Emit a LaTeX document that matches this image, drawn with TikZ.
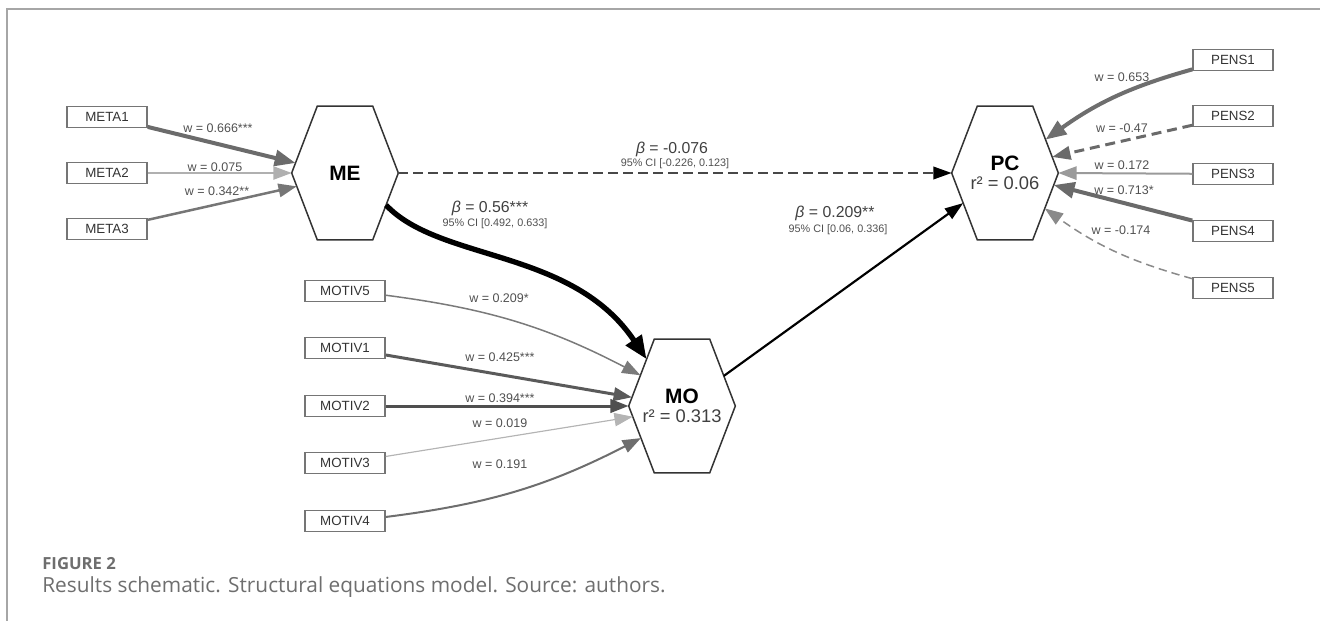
\documentclass[tikz,border=0pt]{standalone}
\usepackage{fontspec}
\setmainfont{Liberation Sans}
\newfontfamily\captionfont{Open Sans}
\usepackage{xcolor}
\usepackage{tikz}
\usetikzlibrary{positioning,calc,arrows.meta}

\definecolor{framegray}{HTML}{A6A6A6}
\definecolor{boxline}{HTML}{757575}
\definecolor{boxtext}{HTML}{333333}
\definecolor{labtext}{HTML}{505050}
\definecolor{captgray}{HTML}{6E6E6E}

% hexagon outline round a latent node, corners kept as coordinates
\newcommand{\drawhex}[1]{%
  \coordinate (#1-nw) at ($(#1.north west)!.24!(#1.north east)$);
  \coordinate (#1-ne) at ($(#1.north west)!.76!(#1.north east)$);
  \coordinate (#1-sw) at ($(#1.south west)!.24!(#1.south east)$);
  \coordinate (#1-se) at ($(#1.south west)!.76!(#1.south east)$);
  \draw[black!80, line width=0.9pt, line join=miter]
    (#1.west) -- (#1-nw) -- (#1-ne) -- (#1.east) -- (#1-se) -- (#1-sw) -- cycle;}

\begin{document}
\begin{tikzpicture}[x=0.6pt, y=-0.6pt,
    indicator/.style={draw=boxline, line width=0.9pt, minimum width=48pt, minimum height=12.5pt,
      inner sep=0pt, text=boxtext, font=\fontsize{8}{9}\selectfont},
    latent/.style={minimum width=63.6pt, minimum height=79.8pt, inner sep=0pt, align=center,
      font=\fontsize{11}{12.6}\selectfont},
    wlab/.style={inner sep=0pt, text=labtext, font=\fontsize{7.5}{8}\selectfont},
    betalab/.style={inner sep=0pt, text=black!75, font=\fontsize{9.5}{10}\selectfont},
    cilab/.style={inner sep=0pt, text=labtext, font=\fontsize{6.5}{7}\selectfont},
    wedge/.style={-{Triangle[length=11pt, width=8pt]}},
    bigwedge/.style={-{Triangle[length=12.5pt, width=9.5pt]}}]
    \useasboundingbox (0,0) rectangle (1320,621);

    % Frame
    \draw[framegray, line width=1.2pt] (1320,9) -| (7,621);

    % Latent variables
    \node[latent] (ME) at (345,173) {\fontsize{12.5}{13}\selectfont\bfseries ME};
    \node[latent] (MO) at (682,406) {{\fontsize{12.5}{13}\selectfont\bfseries MO}\\[-1pt] {\color{black!75}r² = 0.313}};
    \node[latent] (PC) at (1005,173) {{\fontsize{12.5}{13}\selectfont\bfseries PC}\\[-1pt] {\color{black!75}r² = 0.06}};
    \drawhex{ME}
    \drawhex{MO}
    \drawhex{PC}

    % Indicators
    \node[indicator] (META1) at (107,117) {META1};
    \node[indicator] (META2) at (107,173) {META2};
    \node[indicator] (META3) at (107,229) {META3};
    \node[indicator] (MOTIV5) at (345,291) {MOTIV5};
    \node[indicator] (MOTIV1) at (345,348) {MOTIV1};
    \node[indicator] (MOTIV2) at (345,406) {MOTIV2};
    \node[indicator] (MOTIV3) at (345,463) {MOTIV3};
    \node[indicator] (MOTIV4) at (345,521) {MOTIV4};
    \node[indicator] (PENS1) at (1233,60) {PENS1};
    \node[indicator] (PENS2) at (1233,116) {PENS2};
    \node[indicator] (PENS3) at (1233,174) {PENS3};
    \node[indicator] (PENS4) at (1233,231) {PENS4};
    \node[indicator] (PENS5) at (1233,288) {PENS5};

    % Weights into ME
    \draw[bigwedge, color={rgb,255:red,107;green,107;blue,107}, line width=2.4pt] (META1) -- ($(ME.west)!.15!(ME-nw)$);
    \draw[wedge, color={rgb,255:red,176;green,176;blue,176}, line width=0.8pt] (META2) -- (ME.west);
    \draw[wedge, color={rgb,255:red,118;green,118;blue,118}, line width=1.5pt] (META3) -- ($(ME.west)!.2!(ME-sw)$);
    \node[wlab] (w-meta1) at (218,128) {w = 0.666***};
    \node[wlab] (w-meta2) at (215,167) {w = 0.075};
    \node[wlab] (w-meta3) at (217,191) {w = 0.342**};

    % Weights into MO
    \draw[wedge, color={rgb,255:red,122;green,122;blue,122}, line width=0.9pt] (MOTIV5) to[bend left=10] ($(MO.west)!.46!(MO-nw)$);
    \draw[wedge, color={rgb,255:red,90;green,90;blue,90}, line width=1.8pt] (MOTIV1) -- ($(MO.west)!.13!(MO-nw)$);
    \draw[wedge, color={rgb,255:red,79;green,79;blue,79}, line width=1.8pt] (MOTIV2) -- (MO.west);
    \draw[wedge, color={rgb,255:red,180;green,180;blue,180}, line width=0.7pt] (MOTIV3) -- ($(MO.west)!.16!(MO-sw)$);
    \draw[wedge, color={rgb,255:red,110;green,110;blue,110}, line width=1.2pt] (MOTIV4) to[bend right=10] ($(MO.west)!.48!(MO-sw)$);
    \node[wlab] (w-motiv5) at (499,298) {w = 0.209*};
    \node[wlab] (w-motiv1) at (500,357) {w = 0.425***};
    \node[wlab] (w-motiv2) at (500,398) {w = 0.394***};
    \node[wlab] (w-motiv3) at (500,423) {w = 0.019};
    \node[wlab] (w-motiv4) at (500,464) {w = 0.191};

    % Weights into PC
    \draw[bigwedge, color={rgb,255:red,110;green,110;blue,110}, line width=2.4pt] (PENS1) to[bend right=10] ($(PC.east)!.5!(PC-ne)$);
    \draw[wedge, color={rgb,255:red,106;green,106;blue,106}, line width=1.8pt, dash pattern=on 6pt off 3.5pt] (PENS2) -- ($(PC.east)!.24!(PC-ne)$);
    \draw[wedge, color={rgb,255:red,154;green,154;blue,154}, line width=1.2pt] (PENS3) -- (PC.east);
    \draw[bigwedge, color={rgb,255:red,106;green,106;blue,106}, line width=2.4pt] (PENS4) -- ($(PC.east)!.18!(PC-se)$);
    \draw[wedge, color={rgb,255:red,138;green,138;blue,138}, line width=0.9pt, dash pattern=on 5pt off 3pt] (PENS5) to[bend left=10] ($(PC.east)!.53!(PC-se)$);
    \node[wlab] (w-pens1) at (1122,77) {w = 0.653};
    \node[wlab] (w-pens2) at (1122,128) {w = -0.47};
    \node[wlab] (w-pens3) at (1122,165) {w = 0.172};
    \node[wlab] (w-pens4) at (1124,190) {w = 0.713*};
    \node[wlab] (w-pens5) at (1121,230) {w = -0.174};

    % Structural paths
    \draw[-{Triangle[length=11pt, width=7.5pt, color=black]}, color={rgb,255:red,72;green,72;blue,72}, line width=1.3pt, dash pattern=on 6pt off 3pt] (ME.east) -- (PC.west);
    \draw[-{Triangle[length=14pt, width=11pt]}, black, line width=3.2pt] ($(ME.east)!.48!(ME-se)$) .. controls (440,262) and (572,248) .. ($(MO.west)!.7!(MO-nw)$);
    \draw[-{Triangle[length=11pt, width=7.5pt]}, black, line width=1.3pt] ($(MO.east)!.45!(MO-ne)$) -- ($(PC.west)!.45!(PC-sw)$);
    \node[betalab] (b-me-pc) at (672,149) {\textit{β} = -0.076};
    \node[cilab] (ci-me-pc) at (675,164) {95\% CI [-0.226, 0.123]};
    \node[betalab] (b-me-mo) at (490,208) {\textit{β} = 0.56***};
    \node[cilab] (ci-me-mo) at (495,224) {95\% CI [0.492, 0.633]};
    \node[betalab] (b-mo-pc) at (835,213) {\textit{β} = 0.209**};
    \node[cilab] (ci-mo-pc) at (838,230) {95\% CI [0.06, 0.336]};

    % Caption
    \node[anchor=base west, inner sep=0pt, text=captgray, font=\captionfont\fontsize{10}{11}\selectfont\bfseries] (figno) at (42,569) {FIGURE 2};
    \node[anchor=base west, inner sep=0pt, text=captgray, font=\captionfont\fontsize{12.5}{14}\selectfont] (figtext) at (42,592) {Results schematic. Structural equations model. Source: authors.};
\end{tikzpicture}
\end{document}
